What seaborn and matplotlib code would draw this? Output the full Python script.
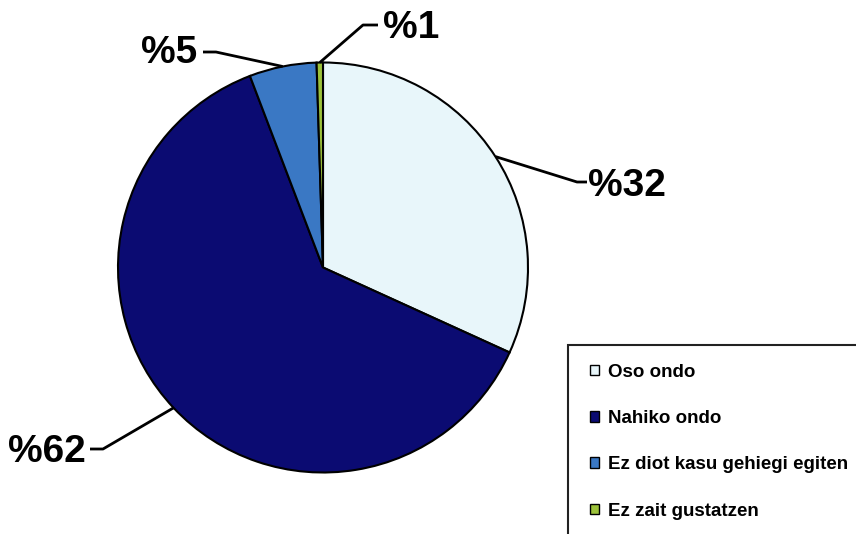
import numpy as np
import matplotlib
matplotlib.use('Agg')
import matplotlib.pyplot as plt
from matplotlib.patches import Rectangle
import seaborn as sns

# data
categories = ['Oso ondo', 'Nahiko ondo', 'Ez diot kasu gehiegi egiten', 'Ez zait gustatzen']
values = [31.8, 62.4, 5.3, 0.5]
pct_labels = ['%32', '%62', '%5', '%1']
colors = ['#E8F6FA', '#0B0B72', '#3A78C4', '#9CC23A']

sns.set_theme(style='white')
plt.rcParams['font.family'] = ['Liberation Sans', 'DejaVu Sans']
plt.rcParams['text.color'] = 'black'

fig = plt.figure(figsize=(8.56, 5.34), dpi=100)
W, H = 856, 534
cx, cy, R = 323, 267.5, 205
ax = fig.add_axes([(cx - R) / W, (H - cy - R) / H, 2 * R / W, 2 * R / H])

wedges, _ = ax.pie(values, colors=colors, startangle=90, counterclock=False,
                   radius=1, wedgeprops=dict(edgecolor='black', linewidth=1.5))
ax.set_xlim(-1, 1)
ax.set_ylim(-1, 1)
ax.set_aspect('equal')
ax.axis('off')

def to_data(px, py):
    return (px - cx) / R, (cy - py) / R

# label layout in pixel coords: (text x, text y, ha, elbow, line end)
layout = [
    (588, 186, 'left', (577, 182), (587, 182)),
    (86, 452, 'right', (103, 449), (90, 449)),
    (197, 53, 'right', (216, 52), (203, 52)),
    (383, 28, 'left', (363, 25), (378, 25)),
]

for w, lab, (tx, ty, ha, elbow, lend) in zip(wedges, pct_labels, layout):
    mid = np.deg2rad((w.theta1 + w.theta2) / 2)
    ax_, ay_ = np.cos(mid), np.sin(mid)
    ex, ey = to_data(*elbow)
    lx, ly = to_data(*lend)
    ax.plot([ax_, ex, lx], [ay_, ey, ly], color='black', lw=2, clip_on=False,
            solid_capstyle='butt')
    x, y = to_data(tx, ty)
    ax.text(x, y, lab, ha=ha, va='center', fontsize=28, fontweight='bold',
            color='black', clip_on=False)

# legend box runs off the right and bottom edges
fig.patches.append(Rectangle((568 / W, -0.05), 0.5, (H - 345) / H + 0.05,
                             transform=fig.transFigure, fill=False,
                             edgecolor='#222222', linewidth=1.5))

leg = fig.legend(wedges, categories, loc='upper left',
                 bbox_to_anchor=(571 / W, 1 - 345 / H), bbox_transform=fig.transFigure,
                 borderaxespad=0, frameon=False,
                 prop=dict(family='Liberation Sans', weight='bold', size=13.5),
                 handlelength=0.48, handleheight=0.48, handletextpad=0.5,
                 labelspacing=1.56, borderpad=1.0)
for t in leg.get_texts():
    t.set_color('black')
for h in leg.legend_handles:
    h.set_linewidth(1.0)

fig.savefig('out.png', dpi=100)
